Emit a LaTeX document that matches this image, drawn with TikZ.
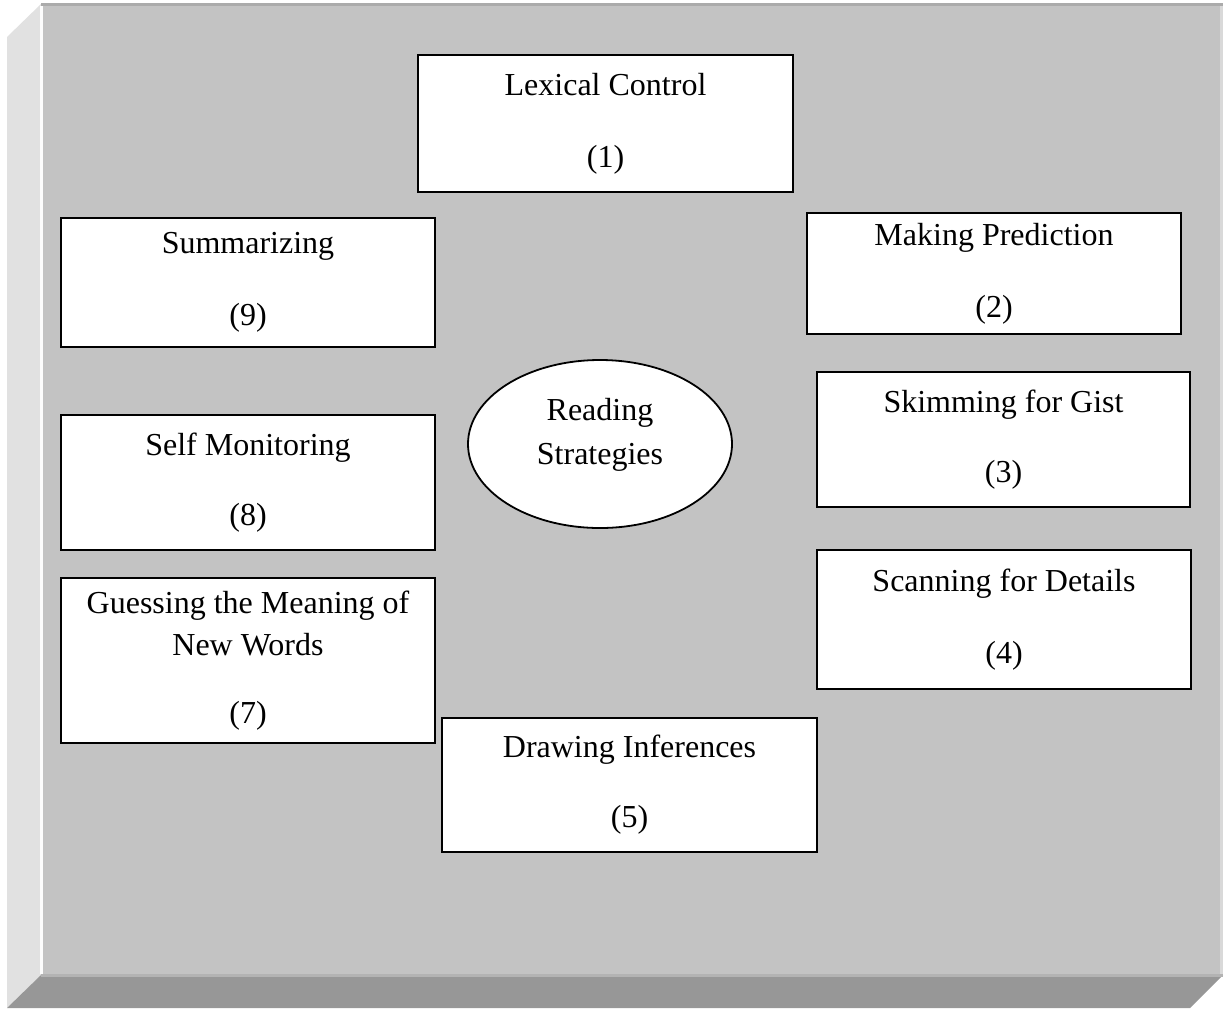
\documentclass[tikz,border=0pt]{standalone}
\usepackage{fontspec}
\setmainfont{Liberation Serif}
\usetikzlibrary{shapes.geometric}
\definecolor{frontc}{HTML}{C3C3C3}
\definecolor{leftc}{HTML}{E1E1E1}
\definecolor{botc}{HTML}{979797}
\definecolor{topc}{HTML}{ABABAB}
\definecolor{edgec}{HTML}{B3B3B3}
\definecolor{lightc}{HTML}{D9D9D9}
\begin{document}
\begin{tikzpicture}[x=0.5pt,y=-0.5pt,
  box/.style={draw=black, line width=1pt, fill=white, align=center, inner sep=0pt,
    font=\fontsize{16}{21}\selectfont},
  oval/.style={ellipse, draw=black, line width=0.9pt, fill=white, inner sep=0pt},
  lbl/.style={align=center, inner sep=0pt, font=\fontsize{16}{22}\selectfont}
]
\useasboundingbox (0,0) rectangle (1225,1008);
\fill[white] (0,0) rectangle (1225,1008);
% bevelled panel
\fill[leftc] (7,37) -- (41,4) -- (41,975) -- (7,1008) -- cycle;
\fill[frontc] (41,4) rectangle (1223,975);
\fill[botc] (41,975) -- (1223,975) -- (1190,1008) -- (7,1008) -- cycle;
\fill[topc] (41,3) rectangle (1223,6);
\fill[edgec] (41,974) rectangle (1223,977);
\fill[lightc] (1220,6) rectangle (1223,974);
\fill[white!92!leftc] (40,6) rectangle (43,974);

% strategy boxes
\node[box, minimum width=187.5pt, minimum height=68.5pt] (lex) at (605.5,123.5) {Lexical Control\\[15pt](1)};
\node[box, minimum width=187pt, minimum height=64.5pt] (sum) at (248,282.5) {Summarizing\\[15pt](9)};
\node[box, minimum width=187pt, minimum height=60.5pt] (pred) at (994,273.5) {Making Prediction\\[15pt](2)};
\node[box, minimum width=186.5pt, minimum height=67.5pt] (skim) at (1003.5,439.5) {Skimming for Gist\\[14pt](3)};
\node[box, minimum width=187pt, minimum height=67.5pt] (self) at (248,482.5) {Self Monitoring\\[14pt](8)};
\node[box, minimum width=187pt, minimum height=69.5pt] (scan) at (1004,619.5) {Scanning for Details\\[15pt](4)};
\node[box, minimum width=187pt, minimum height=82.5pt] (guess) at (248,660.5) {Guessing the Meaning of\\New Words\\[13pt](7)};
\node[box, minimum width=187.5pt, minimum height=67pt] (infer) at (629.5,785) {Drawing Inferences\\[14pt](5)};

% centre
\node[oval, minimum width=132pt, minimum height=84pt] (centre) at (600,444) {};
\node[lbl] (centretext) at (600,435) {Reading\\Strategies};
\end{tikzpicture}
\end{document}
